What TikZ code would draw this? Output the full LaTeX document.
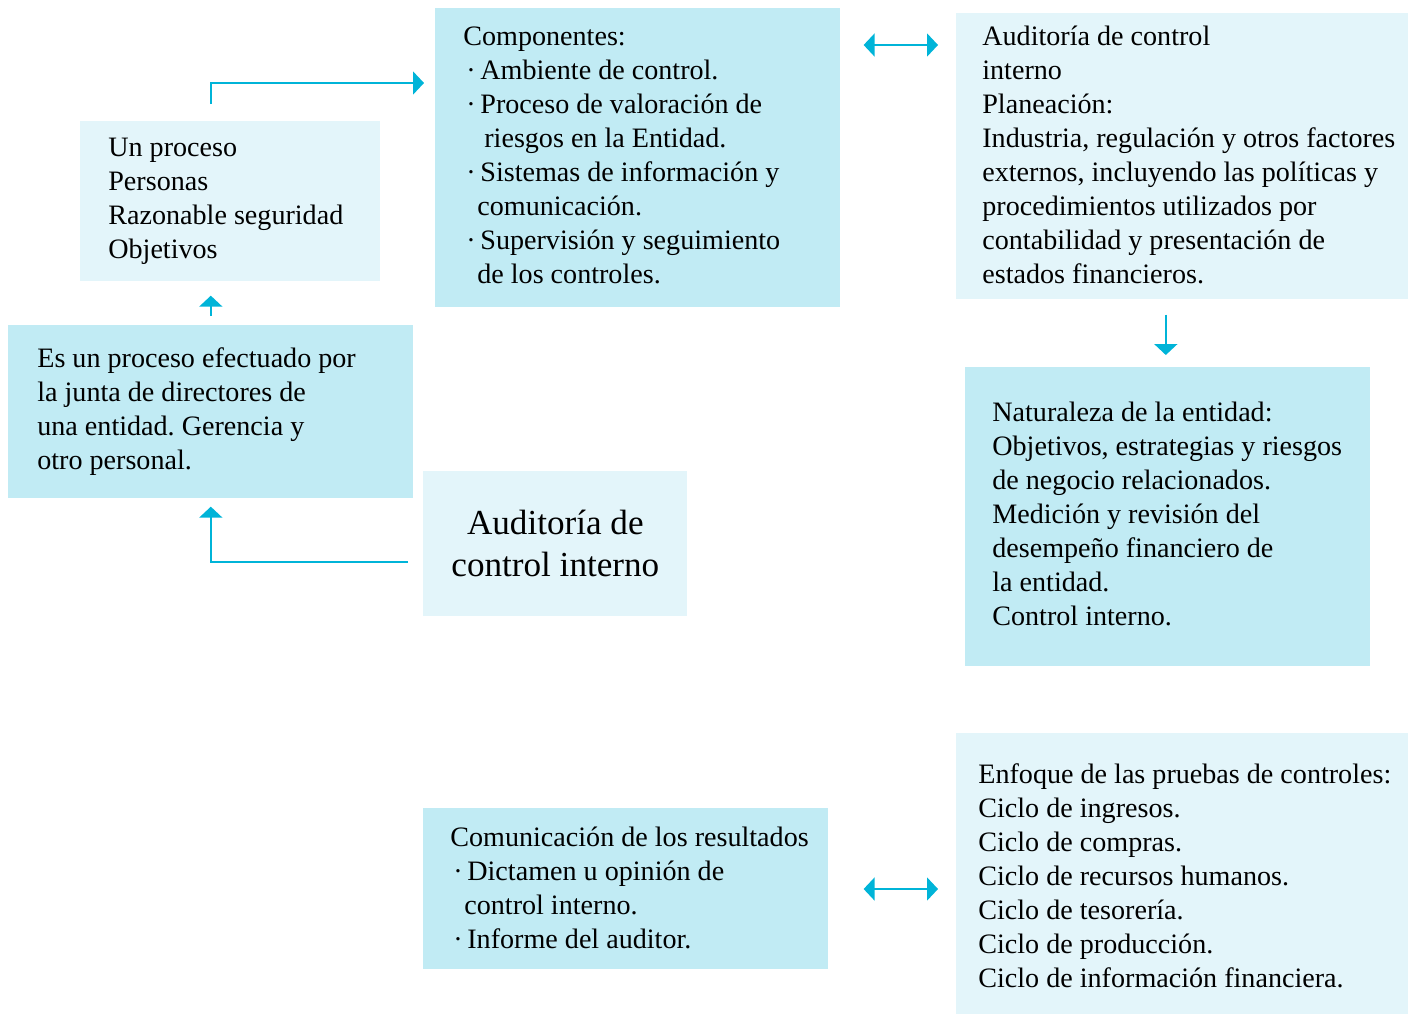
\documentclass[tikz,border=0pt]{standalone}
\usepackage{fontspec}
\setmainfont{Liberation Serif}
\usepackage{tikz}
\usetikzlibrary{positioning, arrows.meta, calc}
\frenchspacing
\definecolor{darkcyanbox}{HTML}{C1EBF4}
\definecolor{lightcyanbox}{HTML}{E3F5FA}
\definecolor{linkcyan}{HTML}{00B4D8}
\tikzset{
	panel/.style={anchor=north west, inner sep=0pt, draw=none},
	darkpanel/.style={panel, fill=darkcyanbox},
	lightpanel/.style={panel, fill=lightcyanbox},
	paneltext/.style={anchor=west, align=left, inner sep=0pt, font=\fontsize{16}{19.35}\selectfont},
	link/.style={linkcyan, line width=1.1pt, -{Triangle[length=0.22cm, width=0.46cm]}},
	twolink/.style={link, {Triangle[length=0.22cm, width=0.46cm]}-{Triangle[length=0.22cm, width=0.46cm]}}
}
\begin{document}
\begin{tikzpicture}[x=0.02cm, y=-0.02cm]
		\useasboundingbox (0, 0) rectangle (1419, 1015);
		\node[lightpanel, minimum width=6cm, minimum height=3.2cm] (rasgos) at (80, 121) {};
		\node[darkpanel, minimum width=8.1cm, minimum height=5.98cm] (comp) at (435, 8) {};
		\node[lightpanel, minimum width=9.04cm, minimum height=5.72cm] (plan) at (956, 13) {};
		\node[darkpanel, minimum width=8.1cm, minimum height=3.46cm] (defin) at (8, 325) {};
		\node[lightpanel, minimum width=5.28cm, minimum height=2.9cm] (audit) at (423, 471) {};
		\node[darkpanel, minimum width=8.1cm, minimum height=5.98cm] (natur) at (965, 367) {};
		\node[darkpanel, minimum width=8.1cm, minimum height=3.22cm] (comun) at (423, 808) {};
		\node[lightpanel, minimum width=9.04cm, minimum height=5.62cm] (enfoq) at (956, 733) {};

		\node[paneltext] (rasgos-t) at ([xshift=0.56cm]rasgos.west) {Un proceso\\Personas\\Razonable seguridad\\Objetivos};
		\node[paneltext] (comp-t) at ([xshift=0.56cm, yshift=0.05cm]comp.west) {Componentes:\\
			\hspace{0.06cm}·\,Ambiente de control.\\
			\hspace{0.06cm}·\,Proceso de valoración de\\
			\hspace{0.42cm}riesgos en la Entidad.\\
			\hspace{0.06cm}·\,Sistemas de información y\\
			\hspace{0.28cm}comunicación.\\
			\hspace{0.06cm}·\,Supervisión y seguimiento\\
			\hspace{0.28cm}de los controles.};
		\node[paneltext] (plan-t) at ([xshift=0.52cm, yshift=0.02cm]plan.west) {Auditoría de control\\interno\\Planeación:\\Industria, regulación y otros factores\\externos, incluyendo las políticas y\\procedimientos utilizados por\\contabilidad y presentación de\\estados financieros.};
		\node[paneltext] (defin-t) at ([xshift=0.58cm]defin.west) {Es un proceso efectuado por\\la junta de directores de\\una entidad. Gerencia y\\otro personal.};
		\node[align=center, inner sep=0pt, font=\fontsize{20}{24}\selectfont] (audit-t) at (audit.center) {Auditoría de\\control interno};
		\node[paneltext] (natur-t) at ([xshift=0.54cm, yshift=0.05cm]natur.west) {Naturaleza de la entidad:\\Objetivos, estrategias y riesgos\\de negocio relacionados.\\Medición y revisión del\\desempeño financiero de\\la entidad.\\Control interno.};
		\node[paneltext] (comun-t) at ([xshift=0.54cm, yshift=0.02cm]comun.west) {Comunicación de los resultados\\
			\hspace{0.06cm}·\,Dictamen u opinión de\\
			\hspace{0.28cm}control interno.\\
			\hspace{0.06cm}·\,Informe del auditor.};
		\node[paneltext] (enfoq-t) at ([xshift=0.44cm, yshift=-0.04cm]enfoq.west) {Enfoque de las pruebas de controles:\\Ciclo de ingresos.\\Ciclo de compras.\\Ciclo de recursos humanos.\\Ciclo de tesorería.\\Ciclo de producción.\\Ciclo de información financiera.};

		\draw[link] ([yshift=0.34cm]defin.north |- rasgos.north) |- ([xshift=-0.22cm]comp.west |- 0, 83);
		\draw[twolink, shorten <=0.46cm, shorten >=0.36cm] (comp.east |- 0, 45) -- (plan.west |- 0, 45);
		\draw[link, shorten <=0.3cm, shorten >=0.24cm] ([xshift=-0.04cm]natur.north |- plan.south) -- ([xshift=-0.04cm]natur.north);
		\draw[link, shorten <=0.18cm, shorten >=0.28cm] (defin.north) -- (defin.north |- rasgos.south);
		\draw[link] ([xshift=-0.3cm]audit.west |- 0, 562) -| ([yshift=-0.16cm]defin.south);
		\draw[twolink, shorten <=0.7cm, shorten >=0.36cm] (comun.east |- 0, 889) -- (enfoq.west |- 0, 889);
\end{tikzpicture}
\end{document}
